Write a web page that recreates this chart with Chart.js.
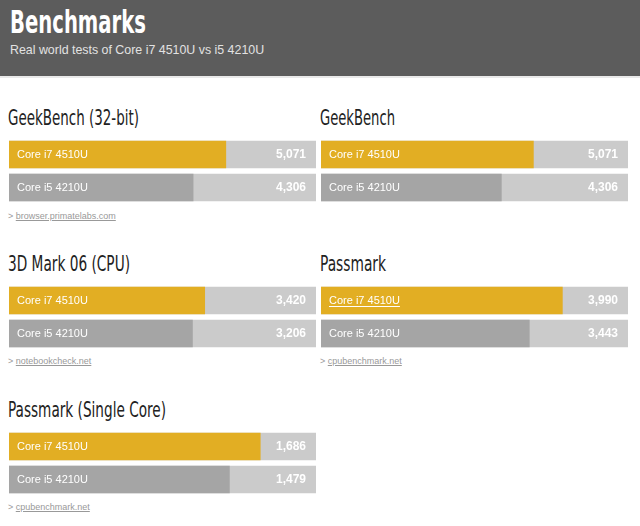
<!DOCTYPE html>
<html><head><meta charset="utf-8">
<script src="https://cdn.jsdelivr.net/npm/chart.js@4"></script>
<style>
html,body{margin:0;padding:0;background:#fff;width:640px;height:526px;overflow:hidden;font-family:"Liberation Sans",Arial,sans-serif;}
#header{position:absolute;left:0;top:0;width:640px;height:76px;background:#5c5c5c;border-bottom:2px solid #e9e9e9;}
#title{position:absolute;left:10px;top:6px;font-family:"Liberation Sans Narrow","DejaVu Sans Condensed",sans-serif;font-weight:bold;font-size:32px;line-height:32px;color:#fff;white-space:nowrap;transform-origin:0 0;}
#subtitle{position:absolute;left:10px;top:44px;font-size:12.4px;line-height:13px;color:#e2e2e2;white-space:nowrap;}
.ptitle{position:absolute;font-family:"Liberation Sans Narrow","DejaVu Sans Condensed",sans-serif;font-size:21px;line-height:21px;color:#222;white-space:nowrap;transform-origin:0 0;}
.src{position:absolute;font-size:9px;line-height:9px;color:#999;white-space:nowrap;}
.src span{text-decoration:underline;}
canvas{position:absolute;}
</style>
</head><body>
<div id="header"><div id="title">Benchmarks</div><div id="subtitle">Real world tests of Core i7 4510U vs i5 4210U</div></div>
<div id="panels"></div>
<script>
// ---- data ----
const panelTitles = ['GeekBench (32-bit)', 'GeekBench', '3D Mark 06 (CPU)', 'Passmark', 'Passmark (Single Core)'];
const processors = ['Core i7 4510U', 'Core i5 4210U'];
const i7Scores = [5071, 5071, 3420, 3990, 1686];
const i5Scores = [4306, 4306, 3206, 3443, 1479];
const scaleMax = [7180, 7330, 5365, 5075, 2060];
const sources = ['browser.primatelabs.com', '', 'notebookcheck.net', 'cpubenchmark.net', 'cpubenchmark.net'];

// ---- layout ----
const colX = [9, 321];
const rowTitleTop = [108, 254, 400];
const rowChartTop = [138, 284, 430];
const rowSrcTop = [212, 357, 503];
const chartW = 307, chartH = 66;
const titleWidth = 136;
const panelTitleWidths = [131, 75, 122, 66, 158];
const underlined = {3: [0]};

const fmt = v => v.toLocaleString('en-US');

function fitWidth(el, target) {
  const w = el.getBoundingClientRect().width;
  if (w > 0) el.style.transform = 'scaleX(' + (target / w) + ')';
}

const barText = {
  id: 'barText',
  afterDatasetsDraw(chart, args, opts) {
    const {ctx, chartArea} = chart;
    const meta = chart.getDatasetMeta(0);
    ctx.save();
    ctx.textBaseline = 'middle';
    ctx.fillStyle = '#ffffff';
    meta.data.forEach((bar, i) => {
      ctx.font = '11px "Liberation Sans", Arial, sans-serif';
      ctx.textAlign = 'left';
      const lbl = chart.data.labels[i];
      const lx = chartArea.left + 8;
      ctx.fillText(lbl, lx, bar.y);
      if ((opts.underline || []).includes(i)) {
        const w = ctx.measureText(lbl).width;
        ctx.fillRect(lx, Math.round(bar.y + 5), w, 1);
      }
      ctx.font = 'bold 12px "Liberation Sans", Arial, sans-serif';
      ctx.textAlign = 'right';
      ctx.fillText(fmt(chart.data.datasets[0].data[i]), chartArea.right - 10, bar.y);
    });
    ctx.restore();
  }
};

fitWidth(document.getElementById('title'), titleWidth);

const host = document.getElementById('panels');
panelTitles.forEach((t, p) => {
  const col = p % 2, row = Math.floor(p / 2);
  const x = colX[col];
  const tdiv = document.createElement('div');
  tdiv.className = 'ptitle';
  tdiv.style.left = (x - 1) + 'px';
  tdiv.style.top = rowTitleTop[row] + 'px';
  tdiv.textContent = t;
  host.appendChild(tdiv);
  fitWidth(tdiv, panelTitleWidths[p]);

  if (sources[p]) {
    const s = document.createElement('div');
    s.className = 'src';
    s.style.left = (x - 1) + 'px';
    s.style.top = rowSrcTop[row] + 'px';
    s.innerHTML = '&gt; <span></span>';
    s.querySelector('span').textContent = sources[p];
    host.appendChild(s);
  }

  const cv = document.createElement('canvas');
  cv.width = chartW; cv.height = chartH;
  cv.style.left = x + 'px';
  cv.style.top = rowChartTop[row] + 'px';
  host.appendChild(cv);

  new Chart(cv, {
    type: 'bar',
    data: {
      labels: processors,
      datasets: [
        {data: [i7Scores[p], i5Scores[p]], backgroundColor: ['#e2ae23', '#a5a5a5'], order: 0, grouped: false, barThickness: 27},
        {data: [scaleMax[p], scaleMax[p]], backgroundColor: '#cbcbcb', order: 1, grouped: false, barThickness: 27}
      ]
    },
    options: {
      indexAxis: 'y',
      responsive: false,
      animation: false,
      events: [],
      layout: {padding: 0},
      scales: {
        x: {display: false, min: 0, max: scaleMax[p]},
        y: {display: false}
      },
      plugins: {legend: {display: false}, tooltip: {enabled: false}, barText: {underline: underlined[p] || []}}
    },
    plugins: [barText]
  });
});
</script>
</body></html>
